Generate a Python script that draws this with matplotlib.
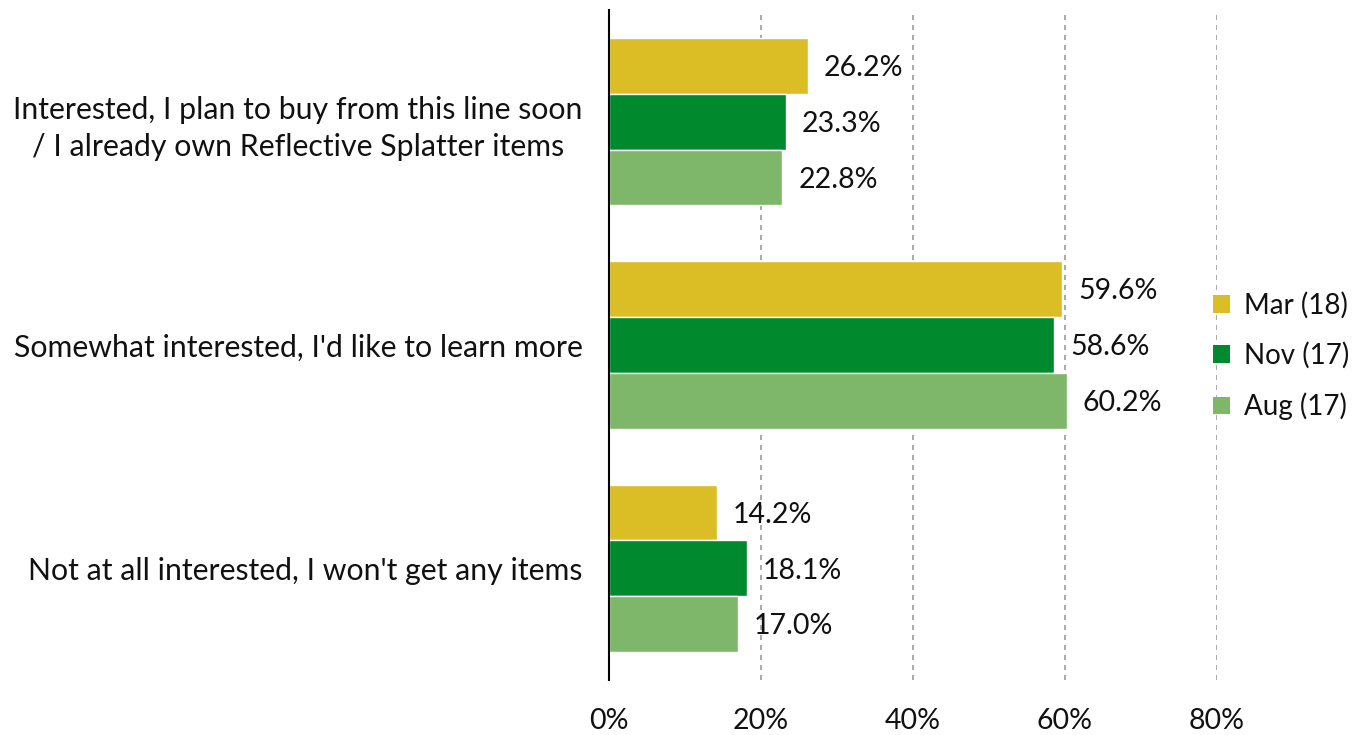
import matplotlib
matplotlib.use("Agg")
import matplotlib.pyplot as plt
import numpy as np
from matplotlib.patches import Patch

plt.rcParams['font.family'] = ['Lato', 'DejaVu Sans']

categories = [
    "Interested, I plan to buy from this line soon\n/ I already own Reflective Splatter items",
    "Somewhat interested, I'd like to learn more",
    "Not at all interested, I won't get any items",
]
series_names = ["Mar (18)", "Nov (17)", "Aug (17)"]
mar_18 = [26.2, 59.6, 14.2]
nov_17 = [23.3, 58.6, 18.1]
aug_17 = [22.8, 60.2, 17.0]
colors = ["#DBBD26", "#00892D", "#7EB76A"]
x_ticks = [0, 20, 40, 60, 80]
x_tick_labels = ["0%", "20%", "40%", "60%", "80%"]

fig = plt.figure(figsize=(13.59, 7.35), dpi=100)
ax = fig.add_axes([609 / 1359, 55 / 735, (1217 - 609) / 1359, 670 / 735])

y = np.arange(len(categories))
h = 0.25
for i, (vals, col) in enumerate(zip([mar_18, nov_17, aug_17], colors)):
    pos = y + (i - 1) * h
    ax.barh(pos, vals, height=h, color=col, edgecolor="white", linewidth=1, zorder=3)
    for p, v in zip(pos, vals):
        ax.text(v + 2.1, p + 0.01, f"{v:.1f}%", va="center", ha="left", fontsize=20.5,
                color="#111111")

ax.set_xlim(0, 80)
ax.set_ylim(2.5, -0.5)
ax.set_yticks(y)
ax.set_yticklabels(categories, fontsize=21.8, ha="right", multialignment="center",
                   linespacing=1.4, color="#111111")
ax.tick_params(axis="y", length=0, pad=19)
ax.set_xticks(x_ticks)
ax.set_xticklabels(x_tick_labels, fontsize=20.5, color="#111111")
ax.tick_params(axis="x", length=0, pad=20)
ax.xaxis.grid(True, linestyle=(0, (3, 3)), color="#999999", linewidth=1.2, zorder=0)
for s in ["top", "right", "bottom"]:
    ax.spines[s].set_visible(False)
ax.spines["left"].set_color("black")
ax.spines["left"].set_linewidth(1.5)
ax.spines["left"].set_zorder(4)

handles = [Patch(facecolor=c, edgecolor="none") for c in colors]
leg = ax.legend(handles, series_names, loc="center left", bbox_to_anchor=(1205 / 1359, 379 / 735),
                bbox_transform=fig.transFigure, frameon=False, fontsize=20,
                handlelength=0.6, handleheight=0.6, handletextpad=0.5, labelspacing=0.85,
                borderaxespad=0, borderpad=0.3)
for t in leg.get_texts():
    t.set_color("#111111")

fig.savefig("out.png", dpi=100)
